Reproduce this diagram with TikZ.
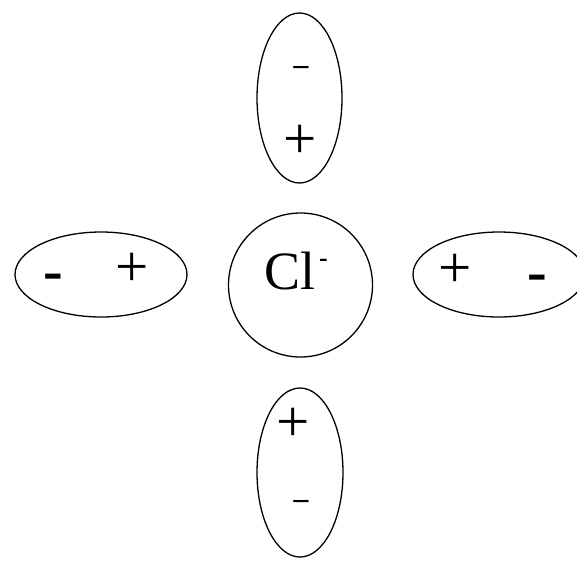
\documentclass[tikz,border=0pt]{standalone}
\usepackage{fontspec}
\setmainfont{Liberation Serif}
\usetikzlibrary{shapes.geometric}
\begin{document}
\begin{tikzpicture}[x=1pt,y=-1pt,
  dipole/.style={draw, line width=1.3pt, ellipse, inner sep=0pt},
  ion/.style={draw, line width=1.3pt, circle, inner sep=0pt, minimum size=144pt},
  chg/.style={inner sep=0pt, font=\fontsize{59}{60}\selectfont},
  tchg/.style={inner sep=0pt, anchor=base, font=\fontsize{59}{60}\selectfont},
  bchg/.style={inner sep=0pt, font=\fontsize{59}{60}\selectfont\bfseries, anchor=base}
]
\useasboundingbox (0,0) rectangle (577,560);
% dipoles
\node[dipole, minimum width=85pt, minimum height=170pt] (top) at (299.5,98) {};
\node[dipole, minimum width=86pt, minimum height=169pt] (bottom) at (300,472.5) {};
\node[dipole, minimum width=172pt, minimum height=85pt] (left) at (101,274.5) {};
\node[dipole, minimum width=172pt, minimum height=85pt] (right) at (499,274.5) {};
% ion
\node[ion] (cl) at (300.5,285) {};
\node[inner sep=0pt, anchor=base, font=\fontsize{54}{56}\selectfont] (cltext) at (290,289) {Cl};
\node[inner sep=0pt, anchor=base, font=\fontsize{26}{28}\selectfont\bfseries] (clsup) at (323.5,266) {-};
% charges
\node[tchg] (tminus) at (301,74.6) {\scalebox{1}[0.5]{-}};
\node[chg] (tplus) at (300.5,142) {+};
\node[bchg] (lminus) at (53,290.5) {-};
\node[chg] (lplus) at (132,270) {+};
\node[chg] (rplus) at (455,271) {+};
\node[bchg] (rminus) at (537,291) {-};
\node[chg] (bplus) at (293,424.5) {+};
\node[tchg] (bminus) at (301,508.6) {\scalebox{1}[0.5]{-}};
\end{tikzpicture}
\end{document}
